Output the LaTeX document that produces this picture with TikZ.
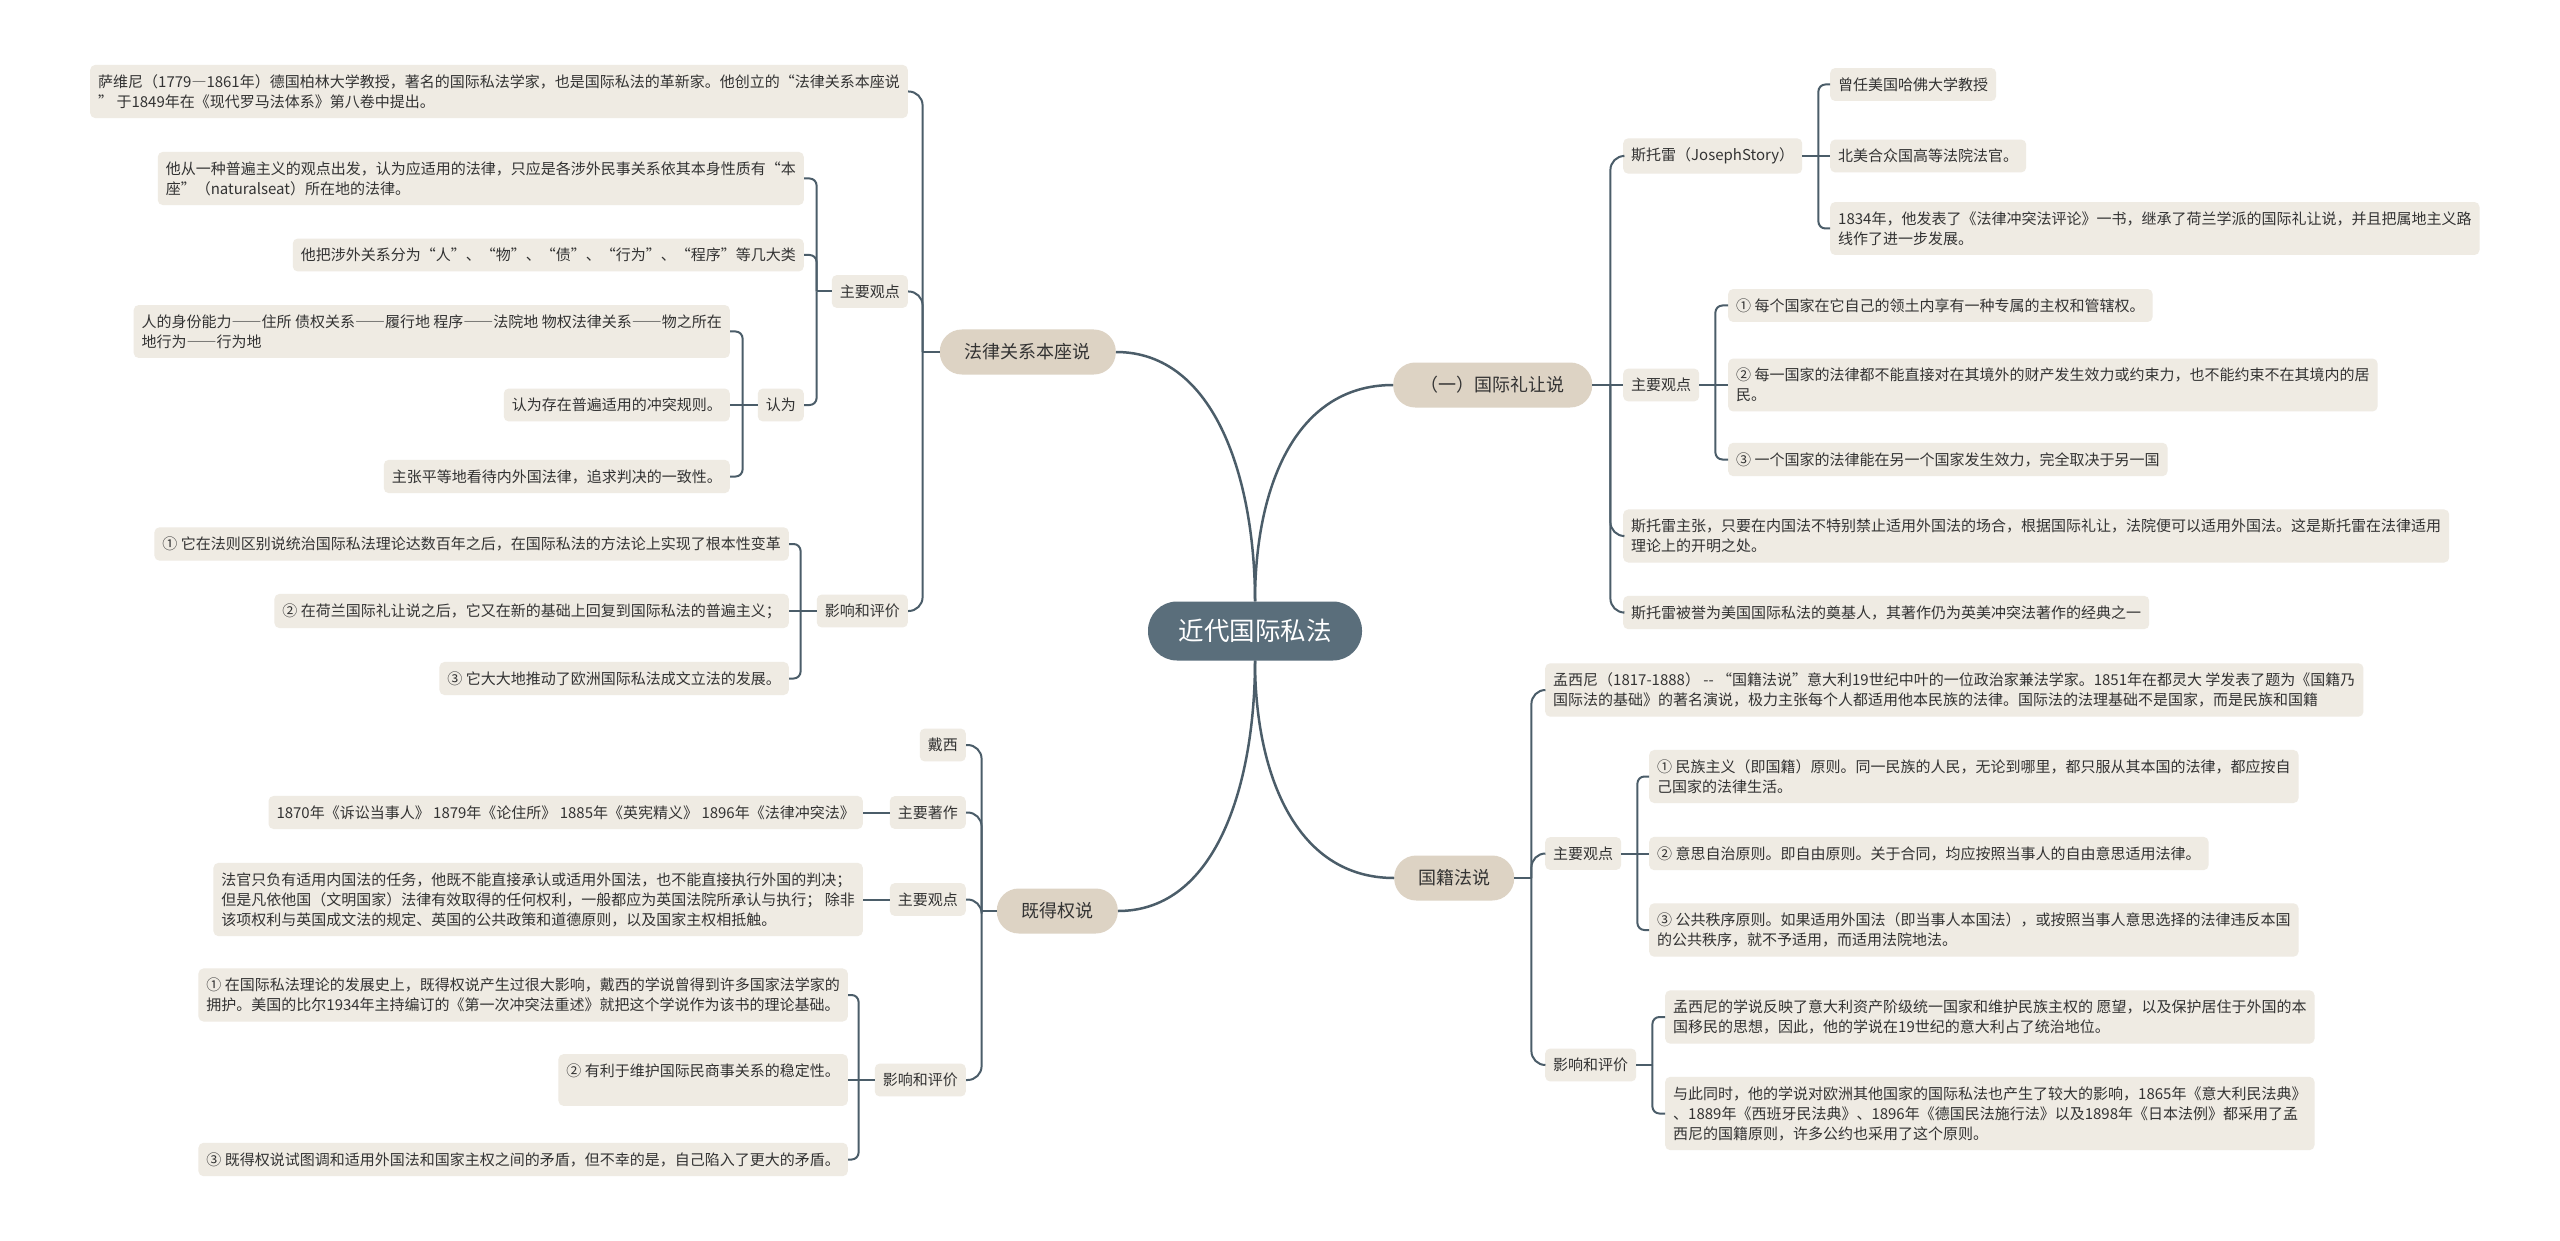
\documentclass[tikz,border=0pt]{standalone}
\usepackage{fontspec}
\setmainfont{Noto Sans CJK SC}
\newcommand\fwdash[1]{{\addfontfeature{RawFeature=+fwid}#1}}
\definecolor{rootblue}{HTML}{5A6E7B}
\definecolor{branchtan}{HTML}{DDD3C4}
\definecolor{leafbeige}{HTML}{EFEBE3}
\definecolor{linegray}{HTML}{4B5D69}
\definecolor{textgray}{HTML}{333333}

\begin{document}
\begin{tikzpicture}[x=1pt,y=-1pt,
    root/.style={fill=rootblue, text=white, rounded corners=29pt, minimum height=59pt, minimum width=214pt, font=\fontsize{25.5}{30}\selectfont},
    branch/.style={fill=branchtan, text=textgray, rounded corners=22pt, minimum height=45pt, font=\fontsize{18}{22}\selectfont},
    leaf/.style={fill=leafbeige, text=textgray, rounded corners=5pt, inner xsep=8pt, inner ysep=9.5pt, align=left, font=\fontsize{15}{20}\selectfont},
    link/.style={draw=linegray, line width=2pt}]
    \fill[white] (0,0) rectangle (2560,1241);
    \useasboundingbox (0,0) rectangle (2560,1241);

    \node[root] (root) at (1255,631) {近代国际私法};
    \node[branch, anchor=east, minimum width=176pt] (law) at (1116,352) {法律关系本座说};
    \node[branch, anchor=east, minimum width=121pt] (vest) at (1118,911) {既得权说};
    \node[branch, anchor=west, minimum width=199pt] (comity) at (1393,385) {（一）国际礼让说};
    \node[branch, anchor=west, minimum width=120pt] (nation) at (1394,878) {国籍法说};

    \node[leaf, anchor=east] (law-sav) at (908,91.5) {萨维尼（1779\fwdash{—}1861年）德国柏林大学教授，著名的国际私法学家，也是国际私法的革新家。他创立的“法律关系本座说\\” 于1849年在《现代罗马法体系》第八卷中提出。};
    \node[leaf, anchor=east] (law-main) at (908,291.5) {主要观点};
    \node[leaf, anchor=east] (law-eval) at (908,611) {影响和评价};
    \node[leaf, anchor=east] (law-m1) at (804,178.5) {他从一种普遍主义的观点出发，认为应适用的法律，只应是各涉外民事关系依其本身性质有“本\\座”（naturalseat）所在地的法律。};
    \node[leaf, anchor=east] (law-m2) at (804,255) {他把涉外关系分为“人”、“物”、“债”、“行为”、“程序”等几大类};
    \node[leaf, anchor=east] (law-view) at (804,405) {认为};
    \node[leaf, anchor=east] (law-v1) at (730,331.5) {人的身份能力\fwdash{——}住所 债权关系\fwdash{——}履行地 程序\fwdash{——}法院地 物权法律关系\fwdash{——}物之所在\\地行为\fwdash{——}行为地};
    \node[leaf, anchor=east] (law-v2) at (730,405) {认为存在普遍适用的冲突规则。};
    \node[leaf, anchor=east] (law-v3) at (730,476.5) {主张平等地看待内外国法律，追求判决的一致性。};
    \node[leaf, anchor=east] (law-e1) at (789,544) {① 它在法则区别说统治国际私法理论达数百年之后，在国际私法的方法论上实现了根本性变革};
    \node[leaf, anchor=east] (law-e2) at (789,611) {② 在荷兰国际礼让说之后，它又在新的基础上回复到国际私法的普遍主义；};
    \node[leaf, anchor=east] (law-e3) at (789,678.5) {③ 它大大地推动了欧洲国际私法成文立法的发展。};

    \node[leaf, anchor=east] (vest-dicey) at (966,745) {戴西};
    \node[leaf, anchor=east] (vest-works) at (966,812.5) {主要著作};
    \node[leaf, anchor=east] (vest-main) at (966,899.5) {主要观点};
    \node[leaf, anchor=east] (vest-eval) at (966,1080) {影响和评价};
    \node[leaf, anchor=east] (vest-w1) at (863,812.5) {1870年《诉讼当事人》 1879年《论住所》 1885年《英宪精义》 1896年《法律冲突法》};
    \node[leaf, anchor=east] (vest-m1) at (863,899.5) {法官只负有适用内国法的任务，他既不能直接承认或适用外国法，也不能直接执行外国的判决；\\但是凡依他国（文明国家）法律有效取得的任何权利，一般都应为英国法院所承认与执行； 除非\\该项权利与英国成文法的规定、英国的公共政策和道德原则，以及国家主权相抵触。};
    \node[leaf, anchor=east] (vest-e1) at (848,995) {① 在国际私法理论的发展史上，既得权说产生过很大影响，戴西的学说曾得到许多国家法学家的\\拥护。美国的比尔1934年主持编订的《第一次冲突法重述》就把这个学说作为该书的理论基础。};
    \node[leaf, anchor=east] (vest-e2) at (848,1080) {② 有利于维护国际民商事关系的稳定性。\\\mbox{}};
    \node[leaf, anchor=east] (vest-e3) at (848,1159.5) {③ 既得权说试图调和适用外国法和国家主权之间的矛盾，但不幸的是，自己陷入了更大的矛盾。};

    \node[leaf, anchor=west] (comity-story) at (1623,156) {斯托雷（JosephStory）};
    \node[leaf, anchor=west] (comity-main) at (1623,385) {主要观点};
    \node[leaf, anchor=west] (comity-c1) at (1623,536) {斯托雷主张，只要在内国法不特别禁止适用外国法的场合，根据国际礼让，法院便可以适用外国法。这是斯托雷在法律适用\\理论上的开明之处。};
    \node[leaf, anchor=west] (comity-c2) at (1623,612.5) {斯托雷被誉为美国国际私法的奠基人，其著作仍为英美冲突法著作的经典之一};
    \node[leaf, anchor=west] (comity-s1) at (1830,84.5) {曾任美国哈佛大学教授};
    \node[leaf, anchor=west] (comity-s2) at (1830,156) {北美合众国高等法院法官。};
    \node[leaf, anchor=west] (comity-s3) at (1830,228.5) {1834年，他发表了《法律冲突法评论》一书，继承了荷兰学派的国际礼让说，并且把属地主义路\\线作了进一步发展。};
    \node[leaf, anchor=west] (comity-m1) at (1728,305.5) {① 每个国家在它自己的领土内享有一种专属的主权和管辖权。};
    \node[leaf, anchor=west] (comity-m2) at (1728,385) {② 每一国家的法律都不能直接对在其境外的财产发生效力或约束力，也不能约束不在其境内的居\\民。};
    \node[leaf, anchor=west] (comity-m3) at (1728,459.5) {③ 一个国家的法律能在另一个国家发生效力，完全取决于另一国};

    \node[leaf, anchor=west] (nation-man) at (1545,690) {孟西尼（1817-1888） -{}- “国籍法说”意大利19世纪中叶的一位政治家兼法学家。1851年在都灵大 学发表了题为《国籍乃\\国际法的基础》的著名演说，极力主张每个人都适用他本民族的法律。国际法的法理基础不是国家，而是民族和国籍};
    \node[leaf, anchor=west] (nation-main) at (1545,853.5) {主要观点};
    \node[leaf, anchor=west] (nation-eval) at (1545,1065) {影响和评价};
    \node[leaf, anchor=west] (nation-m1) at (1649,776.5) {① 民族主义（即国籍）原则。同一民族的人民，无论到哪里，都只服从其本国的法律，都应按自\\己国家的法律生活。};
    \node[leaf, anchor=west] (nation-m2) at (1649,853.5) {② 意思自治原则。即自由原则。关于合同，均应按照当事人的自由意思适用法律。};
    \node[leaf, anchor=west] (nation-m3) at (1649,930) {③ 公共秩序原则。如果适用外国法（即当事人本国法），或按照当事人意思选择的法律违反本国\\的公共秩序，就不予适用，而适用法院地法。};
    \node[leaf, anchor=west] (nation-e1) at (1665,1017) {孟西尼的学说反映了意大利资产阶级统一国家和维护民族主权的 愿望，以及保护居住于外国的本\\国移民的思想，因此，他的学说在19世纪的意大利占了统治地位。};
    \node[leaf, anchor=west] (nation-e2) at (1665,1113.5) {与此同时，他的学说对欧洲其他国家的国际私法也产生了较大的影响，1865年《意大利民法典》\\、1889年《西班牙民法典》、1896年《德国民法施行法》以及1898年《日本法例》都采用了孟\\西尼的国籍原则，许多公约也采用了这个原则。};

    \draw[link, line width=2.5pt] (root.north) .. controls +(0,-120) and +(100,0) .. (law.east);
    \draw[link, line width=2.5pt] (root.north) .. controls +(0,-110) and +(-100,0) .. (comity.west);
    \draw[link, line width=2.5pt] (root.south) .. controls +(0,120) and +(100,0) .. (vest.east);
    \draw[link, line width=2.5pt] (root.south) .. controls +(0,110) and +(-100,0) .. (nation.west);

    \foreach \p/\s/\r/\kids in {law/17/14/{law-sav,law-main,law-eval}, law-main/15/7/{law-m1,law-m2,law-view},
        law-view/15/7/{law-v1,law-v3}, law-eval/16/7/{law-e1,law-e3},
        vest/15/14/{vest-dicey,vest-works,vest-main,vest-eval}, vest-eval/16/7/{vest-e1,vest-e3}} {
    	\draw[link] (\p.west) -- ++(-\s,0) coordinate (\p-j);
    	\foreach \c in \kids \draw[link, rounded corners=\r] (\p-j) |- (\c.east);
    }
    \foreach \p/\s/\r/\kids in {comity/18/14/{comity-story,comity-c1,comity-c2}, comity-story/16/7/{comity-s1,comity-s3},
        comity-main/16/7/{comity-m1,comity-m3}, nation/17/14/{nation-man,nation-main,nation-eval},
        nation-main/16/7/{nation-m1,nation-m3}, nation-eval/16/7/{nation-e1,nation-e2}} {
    	\draw[link] (\p.east) -- ++(\s,0) coordinate (\p-j);
    	\foreach \c in \kids \draw[link, rounded corners=\r] (\p-j) |- (\c.west);
    }
    \foreach \p/\c in {law-view/law-v2, law-eval/law-e2, vest-works/vest-w1, vest-main/vest-m1, vest-eval/vest-e2}
    	\draw[link] (\p.west) -- (\c.east);
    \foreach \p/\c in {comity/comity-main, comity-story/comity-s2, comity-main/comity-m2, nation-main/nation-m2}
    	\draw[link] (\p.east) -- (\c.west);
\end{tikzpicture}
\end{document}
